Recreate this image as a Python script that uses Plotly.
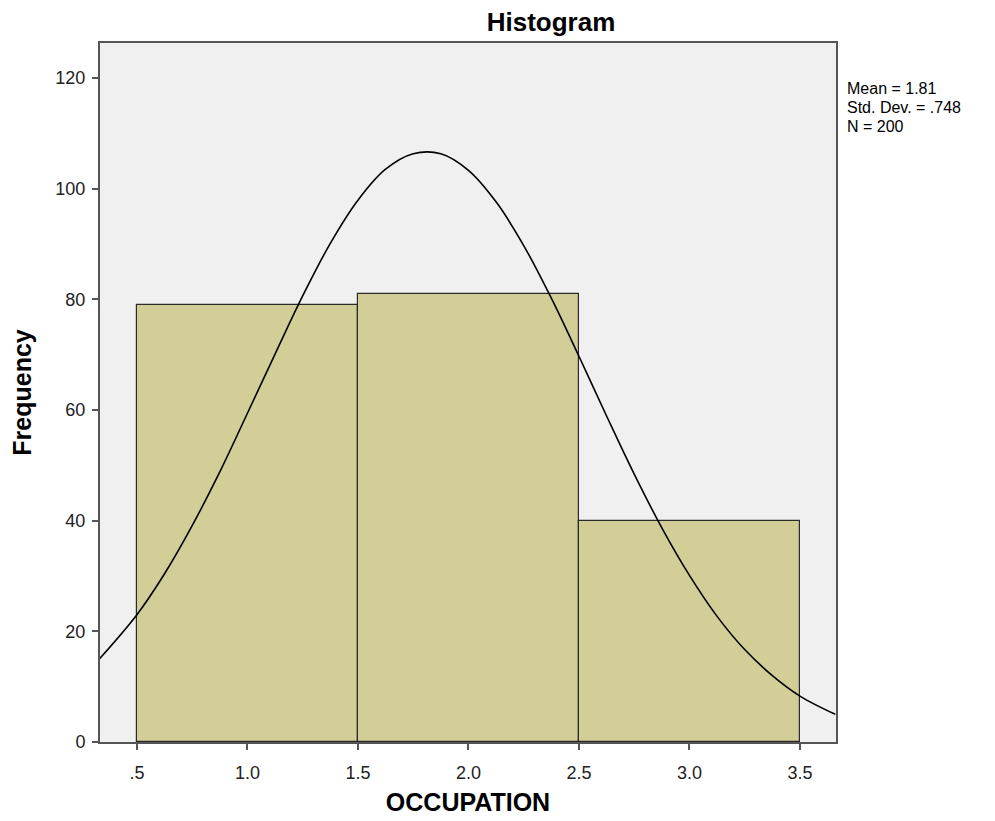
import plotly.graph_objects as go

# histogram bins (OCCUPATION) and counts
bin_centers = [1.0, 2.0, 3.0]
counts = [79, 81, 40]

# normal curve overlay
curve_x = [0.33, 0.5, 0.625, 0.75, 0.875, 1.0, 1.125, 1.25, 1.375, 1.5, 1.625,
           1.75, 1.875, 2.0, 2.125, 2.25, 2.375, 2.5, 2.625, 2.75, 2.875,
           3.0, 3.125, 3.25, 3.375, 3.5, 3.66]
curve_y = [15.0, 23.0, 30.4, 39.1, 48.8, 59.4, 70.1, 80.6, 90.1, 97.9, 103.5,
           106.3, 106.3, 103.3, 97.6, 89.7, 80.2, 69.7, 58.9, 48.4, 38.7,
           30.1, 22.7, 16.7, 12.0, 8.3, 5.0]

x_ticks = [0.5, 1.0, 1.5, 2.0, 2.5, 3.0, 3.5]
x_tick_labels = [".5", "1.0", "1.5", "2.0", "2.5", "3.0", "3.5"]
y_ticks = [0, 20, 40, 60, 80, 100, 120]

stats_lines = ["Mean = 1.81", "Std. Dev. = .748", "N = 200"]

FONT = "Liberation Sans, Arial, sans-serif"

fig = go.Figure()
fig.add_trace(go.Bar(
    x=bin_centers, y=counts, width=1.0,
    marker=dict(color="#D3CE98", line=dict(color="#2a2a2a", width=1.2)),
    showlegend=False, hoverinfo="x+y",
))
fig.add_trace(go.Scatter(
    x=curve_x, y=curve_y, mode="lines",
    line=dict(color="black", width=1.6, shape="spline"),
    showlegend=False,
))

# stats box: SPSS uses tight line spacing, so one annotation per line
stats_y = [0.9356, 0.9084, 0.8812]
annotations = [
    dict(text=t, xref="paper", yref="paper", x=1.012, y=y,
         xanchor="left", yanchor="middle", align="left", showarrow=False,
         font=dict(family=FONT, size=16, color="black"))
    for t, y in zip(stats_lines, stats_y)
]

fig.update_layout(
    width=995, height=821,
    margin=dict(l=92, r=167, t=35, b=87),
    paper_bgcolor="white",
    plot_bgcolor="#F0F0F0",
    font=dict(family=FONT, size=18, color="#222222"),
    title=dict(text="<b>Histogram</b>", x=0.5457, xanchor="center",
               y=1 - 14 / 821, yanchor="middle",
               font=dict(family=FONT, size=26, color="black")),
    bargap=0,
    annotations=annotations,
)
fig.update_xaxes(
    range=[0.333, 3.663], tickvals=x_ticks, ticktext=x_tick_labels,
    ticks="outside", ticklen=6, tickcolor="#555555", tickwidth=2,
    ticklabelstandoff=7,
    showline=True, linecolor="#555555", linewidth=2, mirror=True,
    showgrid=False, zeroline=False,
    title=dict(text="<b>OCCUPATION</b>", font=dict(family=FONT, size=25, color="black"),
               standoff=12),
)
fig.update_yaxes(
    range=[0, 126.3], tickvals=y_ticks,
    ticks="outside", ticklen=6, tickcolor="#555555", tickwidth=2,
    ticklabelstandoff=3,
    showline=True, linecolor="#555555", linewidth=2, mirror=True,
    showgrid=False, zeroline=False,
    title=dict(text="<b>Frequency</b>", font=dict(family=FONT, size=25, color="black"),
               standoff=17),
)

fig.write_html("out.html")
